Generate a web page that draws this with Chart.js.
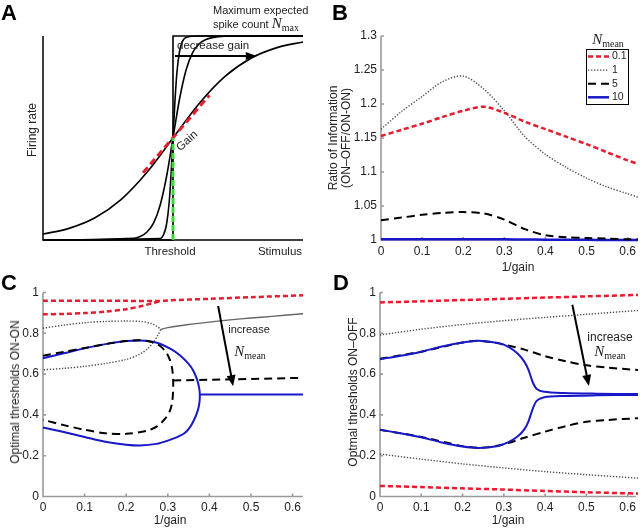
<!DOCTYPE html>
<html>
<head>
<meta charset="utf-8">
<script src="https://cdn.jsdelivr.net/npm/chart.js@4.4.1/dist/chart.umd.min.js"></script>
<style>
body{margin:0;width:640px;height:528px;position:relative;background:#fff;overflow:hidden;font-family:'Liberation Sans',Arial,sans-serif;color:#222}
.pane{position:absolute;width:320px;height:264px}
.t{position:absolute;white-space:nowrap;line-height:1;transform:translate(-50%,-50%);font-size:12px}
.rot{transform:translate(-50%,-50%) rotate(-90deg)}
.big{font-weight:bold;font-size:22px;color:#000}
.nm{font-family:'Liberation Serif',serif;font-size:15px}
.nm i{font-style:italic}
.nm sub{font-size:10px;vertical-align:-3px}
</style>
</head>
<body>
<div class="pane" style="left:0;top:0"><canvas id="chartA" width="320" height="264"></canvas></div>
<div class="pane" style="left:320px;top:0"><canvas id="chartB" width="320" height="264"></canvas></div>
<div class="pane" style="left:0;top:264px"><canvas id="chartC" width="320" height="264"></canvas></div>
<div class="pane" style="left:320px;top:264px"><canvas id="chartD" width="320" height="264"></canvas></div>

<div class="t big" style="left:9px;top:13px">A</div>
<div class="t big" style="left:340px;top:13px">B</div>
<div class="t big" style="left:9px;top:283px">C</div>
<div class="t big" style="left:341px;top:283px">D</div>

<div class="t" style="left:213px;top:10px;transform:translate(0,-50%);font-size:11px">Maximum expected</div>
<div class="t" style="left:213px;top:24px;transform:translate(0,-50%);font-size:11px">spike count <span class="nm"><i>N</i><sub>max</sub></span></div>
<div class="t" style="left:177px;top:46px;transform:translate(0,-50%);font-size:11.5px">decrease gain</div>
<div class="t" style="left:187px;top:141px;transform:translate(-50%,-50%) rotate(-42deg);font-size:11.5px">Gain</div>
<div class="t rot" style="left:32px;top:130px">Firing rate</div>
<div class="t" style="left:170px;top:252px;font-size:11.5px">Threshold</div>
<div class="t" style="left:280px;top:252px;font-size:11.5px">Stimulus</div>

<div class="t rot" style="left:333px;top:138px">Ratio of Information</div>
<div class="t rot" style="left:346px;top:138px">(ON–OFF/ON-ON)</div>
<div class="t" style="left:518px;top:267px">1/gain</div>
<div class="t nm" style="left:608px;top:40px"><i>N</i><sub>mean</sub></div>

<div class="t rot" style="left:15px;top:392px">Optimal thresholds ON-ON</div>
<div class="t" style="left:170px;top:520px">1/gain</div>
<div class="t" style="left:249px;top:329px;font-size:11px">increase</div>
<div class="t nm" style="left:250px;top:352px"><i>N</i><sub>mean</sub></div>

<div class="t rot" style="left:353px;top:392px">Optmal thresholds ON–OFF</div>
<div class="t" style="left:508px;top:520px">1/gain</div>
<div class="t" style="left:610px;top:337px;font-size:12px">increase</div>
<div class="t nm" style="left:610px;top:352px"><i>N</i><sub>mean</sub></div>

<script>
// ---- panel A: tuning curves (stimulus -1..1, threshold at 0)
const aStep = [[-1,0],[0,0],[0,1],[1,1]];
const aSteep = [[-1,0],[-0.1,0.007],[-0.07,0.03],[-0.05,0.076],[-0.03,0.18],[-0.015,0.32],[0,0.5],[0.015,0.68],[0.03,0.82],[0.05,0.924],[0.07,0.97],[0.1,0.993],[0.2,1],[1,1]];
const aMid = [[-1,0],[-0.3,0.008],[-0.25,0.018],[-0.2,0.039],[-0.15,0.083],[-0.1,0.168],[-0.05,0.31],[0,0.5],[0.05,0.69],[0.1,0.832],[0.15,0.917],[0.2,0.961],[0.25,0.982],[0.3,0.992],[0.4,0.999],[1,1]];
const aWide = [[-1,0.029],[-0.8,0.057],[-0.6,0.109],[-0.4,0.198],[-0.2,0.332],[0,0.5],[0.2,0.668],[0.4,0.802],[0.6,0.891],[0.8,0.943],[1,0.971]];
const aTangent = [[-0.23,0.33],[0.28,0.71]];
const aThreshold = [[0,0],[0,0.5]];

// ---- panel B: ratio of information
const bX = [0,0.05,0.1,0.15,0.2,0.25,0.3,0.35,0.4,0.45,0.5,0.55,0.6,0.625];
const bN01 = [1.153,1.162,1.171,1.181,1.190,1.196,1.187,1.174,1.163,1.152,1.141,1.129,1.117,1.112];
const bN1 = [1.163,1.189,1.211,1.233,1.241,1.222,1.190,1.152,1.126,1.107,1.091,1.078,1.068,1.063];
const bN5 = [1.029,1.033,1.037,1.040,1.041,1.039,1.030,1.016,1.007,1.004,1.003,1.002,1.001,1.001];
const bN10 = [1.001,1.001,1.0012,1.0012,1.0012,1.0011,1.001,1.0008,1.0005,1.0003,1.0002,1.0001,1.0,1.0];
const bXTicks = [0,0.1,0.2,0.3,0.4,0.5,0.6];
const bYTicks = [1,1.05,1.1,1.15,1.2,1.25,1.3];

// ---- panel C: optimal thresholds ON-ON
const cN01a = [[0,0.960],[0.1,0.960],[0.2,0.959],[0.28,0.958],[0.3,0.961],[0.4,0.969],[0.5,0.977],[0.625,0.986]];
const cN01b = [[0,0.893],[0.05,0.895],[0.1,0.899],[0.15,0.906],[0.2,0.918],[0.24,0.935],[0.265,0.949],[0.282,0.958]];
const cN1loop = [[0,0.825],[0.05,0.84],[0.1,0.852],[0.15,0.858],[0.2,0.86],[0.24,0.857],[0.26,0.848],[0.275,0.832],[0.282,0.818],
  [0.276,0.79],[0.265,0.755],[0.25,0.722],[0.23,0.695],[0.2,0.672],[0.15,0.652],[0.1,0.638],[0.05,0.628],[0,0.621]];
const cN1tail = [[0.282,0.818],[0.3,0.828],[0.35,0.843],[0.4,0.855],[0.45,0.866],[0.5,0.875],[0.55,0.883],[0.625,0.896]];
const cN5loop = [[0,0.69],[0.05,0.709],[0.1,0.728],[0.15,0.747],[0.2,0.762],[0.23,0.766],[0.26,0.758],[0.28,0.74],[0.295,0.71],[0.305,0.67],[0.311,0.62],
  [0.313,0.55],[0.311,0.47],[0.305,0.42],[0.293,0.38],[0.275,0.345],[0.25,0.322],[0.2,0.307],[0.15,0.31],[0.1,0.327],[0.05,0.35],[0,0.376]];
const cN5tail = [[0.313,0.569],[0.4,0.572],[0.5,0.576],[0.625,0.582]];
const cN10loop = [[0,0.678],[0.05,0.702],[0.1,0.726],[0.15,0.747],[0.2,0.762],[0.233,0.765],[0.26,0.76],[0.281,0.749],[0.31,0.72],[0.329,0.692],[0.35,0.65],[0.361,0.618],[0.37,0.575],[0.375,0.536],[0.377,0.5],
  [0.376,0.46],[0.372,0.421],[0.363,0.375],[0.353,0.339],[0.34,0.31],[0.321,0.29],[0.3,0.274],[0.273,0.258],[0.233,0.25],[0.2,0.254],[0.15,0.268],[0.1,0.292],[0.05,0.316],[0,0.338]];
const cN10tail = [[0.377,0.5],[0.625,0.5]];

// ---- panel D: optimal thresholds ON-OFF
const dN01a = [[0,0.951],[0.1,0.957],[0.2,0.963],[0.3,0.969],[0.4,0.975],[0.5,0.981],[0.625,0.988]];
const dN01b = [[0,0.052],[0.1,0.046],[0.2,0.04],[0.3,0.034],[0.4,0.027],[0.5,0.021],[0.625,0.014]];
const dN1a = [[0,0.792],[0.1,0.82],[0.2,0.843],[0.3,0.862],[0.4,0.878],[0.5,0.893],[0.625,0.912]];
const dN1b = [[0,0.208],[0.1,0.183],[0.2,0.16],[0.3,0.14],[0.4,0.122],[0.5,0.107],[0.625,0.09]];
const dN5a = [[0,0.675],[0.1,0.71],[0.2,0.755],[0.24,0.763],[0.28,0.753],[0.31,0.74],[0.35,0.72],[0.4,0.688],[0.45,0.663],[0.5,0.643],[0.55,0.632],[0.625,0.62]];
const dN5b = [[0,0.327],[0.1,0.292],[0.2,0.247],[0.24,0.239],[0.28,0.247],[0.31,0.262],[0.35,0.288],[0.4,0.318],[0.45,0.345],[0.5,0.366],[0.55,0.375],[0.625,0.384]];
const dN10a = [[0,0.673],[0.05,0.69],[0.1,0.71],[0.15,0.735],[0.2,0.755],[0.24,0.763],[0.286,0.752],[0.31,0.735],[0.334,0.7],[0.35,0.66],[0.36,0.62],[0.37,0.56],[0.38,0.527],[0.398,0.513],[0.446,0.507],[0.525,0.504],[0.625,0.502]];
const dN10b = [[0,0.327],[0.05,0.31],[0.1,0.29],[0.15,0.265],[0.2,0.245],[0.24,0.238],[0.286,0.248],[0.31,0.265],[0.334,0.295],[0.35,0.33],[0.36,0.37],[0.37,0.43],[0.38,0.47],[0.398,0.487],[0.446,0.493],[0.525,0.496],[0.625,0.498]];
const cdYTicks = [0,0.2,0.4,0.6,0.8,1];

const RED = 'rgb(228,30,46)';
const BLUE = 'rgb(24,24,200)';
const redDash = {borderColor: RED, borderWidth: 2.5, borderDash: [5,3]};
const grayDot = {borderColor: '#4a4a4a', borderWidth: 1.4, borderDash: [1.3,1.7]};
const graySolid = {borderColor: '#666', borderWidth: 1.4};
const blackDash = {borderColor: '#000', borderWidth: 2, borderDash: [8,5]};
const blueLine = {borderColor: BLUE, borderWidth: 2};

function pts(arr) { return arr.map(p => ({x: p[0], y: p[1]})); }
// note: chart.js draws dataset 0 on top, so lists below go top-most first
function ds(data, style, extra) {
  return Object.assign({data: data, pointRadius: 0, clip: false, tension: 0.3, fill: false}, style, extra || {});
}

const tickFont = {family: "'Liberation Sans', Arial, sans-serif", size: 12};

// axis lines + inward tick marks, drawn under the data like in matlab
const axesPlugin = {
  id: 'axes',
  beforeDatasetsDraw(chart, args, opts) {
    const ctx = chart.ctx, a = chart.chartArea;
    ctx.save();
    ctx.strokeStyle = opts.color;
    ctx.lineWidth = opts.width;
    ctx.beginPath();
    ctx.moveTo(a.left, a.top);
    ctx.lineTo(a.left, a.bottom);
    ctx.lineTo(a.right, a.bottom);
    if (opts.ticks) {
      const sx = chart.scales.x, sy = chart.scales.y;
      sx.ticks.forEach(t => { const p = sx.getPixelForValue(t.value); ctx.moveTo(p, a.bottom); ctx.lineTo(p, a.bottom - 3); });
      sy.ticks.forEach(t => { const p = sy.getPixelForValue(t.value); ctx.moveTo(a.left, p); ctx.lineTo(a.left + 3, p); });
    }
    ctx.stroke();
    ctx.restore();
  }
};

// arrows given in data units
const arrowPlugin = {
  id: 'arrows',
  afterDatasetsDraw(chart, args, opts) {
    if (!opts.list) return;
    const ctx = chart.ctx, sx = chart.scales.x, sy = chart.scales.y;
    opts.list.forEach(ar => {
      const x1 = sx.getPixelForValue(ar.from[0]), y1 = sy.getPixelForValue(ar.from[1]);
      const x2 = sx.getPixelForValue(ar.to[0]), y2 = sy.getPixelForValue(ar.to[1]);
      const ang = Math.atan2(y2 - y1, x2 - x1);
      const hl = ar.head || 10, hw = ar.headW || 4;
      ctx.save();
      ctx.strokeStyle = '#000'; ctx.fillStyle = '#000'; ctx.lineWidth = ar.width || 2;
      ctx.beginPath();
      ctx.moveTo(x1, y1);
      ctx.lineTo(x2 - Math.cos(ang) * hl * 0.8, y2 - Math.sin(ang) * hl * 0.8);
      ctx.stroke();
      ctx.beginPath();
      ctx.moveTo(x2, y2);
      ctx.lineTo(x2 - Math.cos(ang) * hl + Math.sin(ang) * hw, y2 - Math.sin(ang) * hl - Math.cos(ang) * hw);
      ctx.lineTo(x2 - Math.cos(ang) * hl - Math.sin(ang) * hw, y2 - Math.sin(ang) * hl + Math.cos(ang) * hw);
      ctx.closePath();
      ctx.fill();
      ctx.restore();
    });
  }
};

// boxed legend for panel B
const boxLegend = {
  id: 'boxLegend',
  afterDatasetsDraw(chart, args, opts) {
    if (!opts.box) return;
    const ctx = chart.ctx, b = opts.box;
    ctx.save();
    ctx.fillStyle = '#fff';
    ctx.fillRect(b[0], b[1], b[2], b[3]);
    ctx.strokeStyle = '#000'; ctx.lineWidth = 1;
    ctx.strokeRect(b[0] + 0.5, b[1] + 0.5, b[2], b[3]);
    ctx.font = "10.5px 'Liberation Sans', Arial, sans-serif";
    ctx.textBaseline = 'middle';
    chart.data.datasets.forEach((d, i) => {
      if (!d.legendLabel) return;
      const y = b[1] + 7.5 + i * 13.6;
      ctx.strokeStyle = d.borderColor; ctx.lineWidth = d.borderWidth;
      ctx.setLineDash(d.borderDash || []);
      ctx.beginPath(); ctx.moveTo(b[0] + 2, y); ctx.lineTo(b[0] + 23, y); ctx.stroke();
      ctx.setLineDash([]);
      ctx.fillStyle = '#222';
      ctx.fillText(d.legendLabel, b[0] + 26, y);
    });
    ctx.restore();
  }
};

function makeChart(id, datasets, cfg) {
  return new Chart(document.getElementById(id), {
    type: 'line',
    data: {datasets: datasets},
    plugins: [axesPlugin, arrowPlugin, boxLegend],
    options: {
      responsive: false,
      animation: false,
      devicePixelRatio: 1,
      layout: {padding: {top: cfg.top, right: cfg.right, left: 0, bottom: 0}},
      plugins: {
        legend: {display: false},
        tooltip: {enabled: false},
        axes: {color: cfg.axisColor, width: cfg.axisWidth, ticks: cfg.showTicks},
        arrows: {list: cfg.arrows},
        boxLegend: {box: cfg.legendBox}
      },
      scales: {
        x: {
          type: 'linear', min: cfg.xMin, max: cfg.xMax,
          grid: {display: false, drawTicks: false}, border: {display: false},
          ticks: {display: cfg.showTicks, font: tickFont, color: '#222', padding: 4, maxRotation: 0, callback: v => v},
          afterBuildTicks: s => { if (cfg.xTicks) s.ticks = cfg.xTicks.map(v => ({value: v})); },
          afterFit: s => { s.height = cfg.xHeight; }
        },
        y: {
          type: 'linear', min: cfg.yMin, max: cfg.yMax,
          grid: {display: false, drawTicks: false}, border: {display: false},
          ticks: {display: cfg.showTicks, font: tickFont, color: '#222', padding: 4, callback: v => v},
          afterBuildTicks: s => { if (cfg.yTicks) s.ticks = cfg.yTicks.map(v => ({value: v})); },
          afterFit: s => { s.width = cfg.yWidth; }
        }
      }
    }
  });
}

// A
const blk = {borderColor: '#000', borderWidth: 1.6};
makeChart('chartA', [
  ds(pts(aThreshold), {borderColor: '#3cd83c', borderWidth: 3, borderDash: [6,3]}, {tension: 0}),
  ds(pts(aTangent), {borderColor: RED, borderWidth: 3, borderDash: [7,4]}, {tension: 0}),
  ds(pts(aStep), blk, {tension: 0}),
  ds(pts(aSteep), blk, {cubicInterpolationMode: 'monotone'}),
  ds(pts(aMid), blk, {cubicInterpolationMode: 'monotone'}),
  ds(pts(aWide), blk, {cubicInterpolationMode: 'monotone'})
], {top: 36, right: 17, xHeight: 24, yWidth: 43, xMin: -1, xMax: 1, yMin: 0, yMax: 1,
    axisColor: '#000', axisWidth: 1.5, showTicks: false,
    arrows: [{from: [0.015, 0.902], to: [0.644, 0.902], width: 1.8, head: 11, headW: 4}]});

// B
function bSeries(vals) { return vals.map((v, i) => ({x: bX[i], y: v})); }
makeChart('chartB', [
  ds(bSeries(bN01), redDash, {legendLabel: '0.1'}),
  ds(bSeries(bN1), grayDot, {legendLabel: '1'}),
  ds(bSeries(bN5), blackDash, {legendLabel: '5'}),
  ds(bSeries(bN10), blueLine, {legendLabel: '10', borderWidth: 2.5})
], {top: 36, right: 0, xHeight: 24, yWidth: 61, xMin: 0, xMax: 0.622, yMin: 1, yMax: 1.3,
    xTicks: bXTicks, yTicks: bYTicks, axisColor: '#9a9a9a', axisWidth: 1.6, showTicks: true,
    legendBox: [266, 49, 42, 55]});

// C (black dashes sit on top of blue here)
makeChart('chartC', [
  ds(pts(cN01a), redDash), ds(pts(cN01b), redDash),
  ds(pts(cN5loop), blackDash), ds(pts(cN5tail), blackDash, {tension: 0}),
  ds(pts(cN10loop), blueLine), ds(pts(cN10tail), blueLine, {tension: 0}),
  ds(pts(cN1loop), grayDot), ds(pts(cN1tail), graySolid)
], {top: 28.5, right: 17, xHeight: 31.5, yWidth: 43, xMin: 0, xMax: 0.625, yMin: 0, yMax: 1,
    xTicks: bXTicks, yTicks: cdYTicks, axisColor: '#9a9a9a', axisWidth: 1.6, showTicks: true,
    arrows: [{from: [0.421, 0.934], to: [0.457, 0.541], width: 2, head: 11, headW: 4.5}]});

// D (blue on top)
makeChart('chartD', [
  ds(pts(dN10a), blueLine), ds(pts(dN10b), blueLine),
  ds(pts(dN5a), blackDash), ds(pts(dN5b), blackDash),
  ds(pts(dN01a), redDash), ds(pts(dN01b), redDash),
  ds(pts(dN1a), grayDot), ds(pts(dN1b), grayDot)
], {top: 28.5, right: 0, xHeight: 31.5, yWidth: 60, xMin: 0, xMax: 0.62, yMin: 0, yMax: 1,
    xTicks: bXTicks, yTicks: cdYTicks, axisColor: '#9a9a9a', axisWidth: 1.6, showTicks: true,
    arrows: [{from: [0.466, 0.94], to: [0.506, 0.542], width: 2, head: 11, headW: 4.5}]});
</script>
</body>
</html>
